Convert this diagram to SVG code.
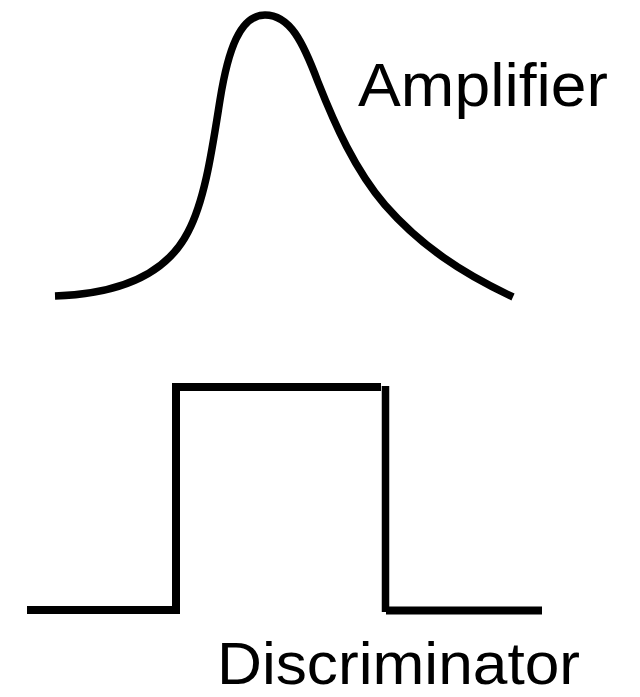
<svg xmlns="http://www.w3.org/2000/svg" width="640" height="697" viewBox="0 0 640 697">
<style>
.line{fill:none;stroke:#000;stroke-width:7.5;stroke-linejoin:miter;stroke-linecap:butt}
.lbl{font-family:"Liberation Sans",Arial,sans-serif;fill:#000}
</style>
<rect width="640" height="697" fill="#fff"/>
<g id="amplifier">
<path class="line" d="M55,296 C115,294 165,277 188,232 C205,200 212,150 220,100 C228,50 240,15 265,15 C290,15 303,42 318,82 C335,125 355,170 385,205 C420,245 460,272 513,297"/>
<text class="lbl" x="358" y="106" font-size="62" textLength="250" lengthAdjust="spacingAndGlyphs">Amplifier</text>
</g>
<g id="discriminator">
<path class="line" style="stroke-width:8" d="M27,610 H176 V387 H381"/>
<path class="line" d="M385.5,386 V612"/>
<path class="line" style="stroke-width:8" d="M386,610.5 H542"/>
<text class="lbl" x="217" y="684" font-size="60" textLength="363" lengthAdjust="spacingAndGlyphs">Discriminator</text>
</g>
</svg>
